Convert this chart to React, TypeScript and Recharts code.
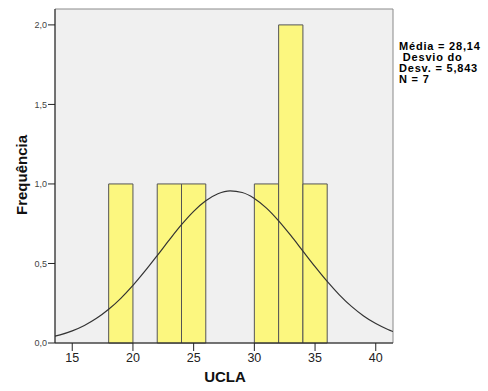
import React from 'react';
import {
  ComposedChart, Line, XAxis, YAxis, ReferenceArea,
} from 'recharts';

// histogram bins (UCLA score), width 2
const binStart = [18, 22, 24, 30, 32, 34];
const binEnd = [20, 24, 26, 32, 34, 36];
const binCount = [1, 1, 1, 1, 2, 1];

// fitted normal curve
const curveX = [13.58, 14, 15, 16, 17, 18, 19, 20, 21, 22, 23, 24, 25, 26, 27, 28, 29, 30, 31, 32, 33, 34, 35, 36, 37, 38, 39, 40, 41, 41.42];
const curveY = [0.043, 0.051, 0.076, 0.11, 0.155, 0.212, 0.281, 0.362, 0.453, 0.55, 0.649, 0.744, 0.828, 0.894, 0.938, 0.956, 0.946, 0.909, 0.848, 0.768, 0.676, 0.578, 0.48, 0.387, 0.303, 0.23, 0.17, 0.122, 0.085, 0.072];

const xTicks = [15, 20, 25, 30, 35, 40];
const yTicks = [0, 0.5, 1, 1.5, 2];
const xDomain = [13.58, 41.42];
const yDomain = [0, 2.1];

const statLines = ['Média = 28,14', ' Desvio do', 'Desv. = 5,843', 'N = 7'];

const FONT = '"Liberation Sans", Arial, sans-serif';

export default function App() {
  const data = curveX.map((x, i) => ({ x, y: curveY[i] }));

  return (
    <div style={{ position: 'absolute', left: 0, top: 0, width: 488, height: 391, background: '#fff', fontFamily: FONT }}>
      <ComposedChart width={488} height={391} data={data} margin={{ top: 9, right: 95, left: 0, bottom: 0 }}>
        <ReferenceArea
          x1={xDomain[0]}
          x2={xDomain[1]}
          y1={yDomain[0]}
          y2={yDomain[1]}
          fill="#f0f0f0"
          fillOpacity={1}
          stroke="#8a8a8a"
          strokeWidth={1}
        />
        {binStart.map((s, i) => (
          <ReferenceArea
            key={s}
            x1={s}
            x2={binEnd[i]}
            y1={0}
            y2={binCount[i]}
            fill="#fcf77f"
            fillOpacity={1}
            stroke="#555"
            strokeWidth={1}
          />
        ))}
        <XAxis
          dataKey="x"
          type="number"
          domain={xDomain}
          ticks={xTicks}
          allowDataOverflow
          height={48}
          tickSize={8}
          tickMargin={2}
          axisLine={{ stroke: '#222' }}
          tickLine={{ stroke: '#222' }}
          tick={{ fill: '#222', fontSize: 12.5, fontFamily: FONT }}
        />
        <YAxis
          type="number"
          domain={yDomain}
          ticks={yTicks}
          allowDataOverflow
          width={55}
          tickSize={7}
          tickMargin={1}
          axisLine={{ stroke: '#222' }}
          tickLine={{ stroke: '#222' }}
          tick={{ fill: '#444', fontSize: 9, fontFamily: FONT }}
          tickFormatter={(v: number) => v.toFixed(1).replace('.', ',')}
        />
        <Line
          dataKey="y"
          type="monotone"
          stroke="#333"
          strokeWidth={1.2}
          dot={false}
          activeDot={false}
          isAnimationActive={false}
        />
      </ComposedChart>

      <div style={{ position: 'absolute', left: 225, top: 368, transform: 'translateX(-50%)', fontSize: 15, fontWeight: 'bold', color: '#111' }}>
        UCLA
      </div>
      <div style={{ position: 'absolute', left: 21, top: 175, transform: 'translate(-50%, -50%) rotate(-90deg)', fontSize: 15, fontWeight: 'bold', color: '#111', whiteSpace: 'nowrap' }}>
        Frequência
      </div>
      <div style={{ position: 'absolute', left: 399, top: 41, fontSize: 11, lineHeight: '11px', letterSpacing: 0.8, color: '#000', whiteSpace: 'pre', fontWeight: 'bold' }}>
        {statLines.map((l) => <div key={l}>{l}</div>)}
      </div>
    </div>
  );
}
